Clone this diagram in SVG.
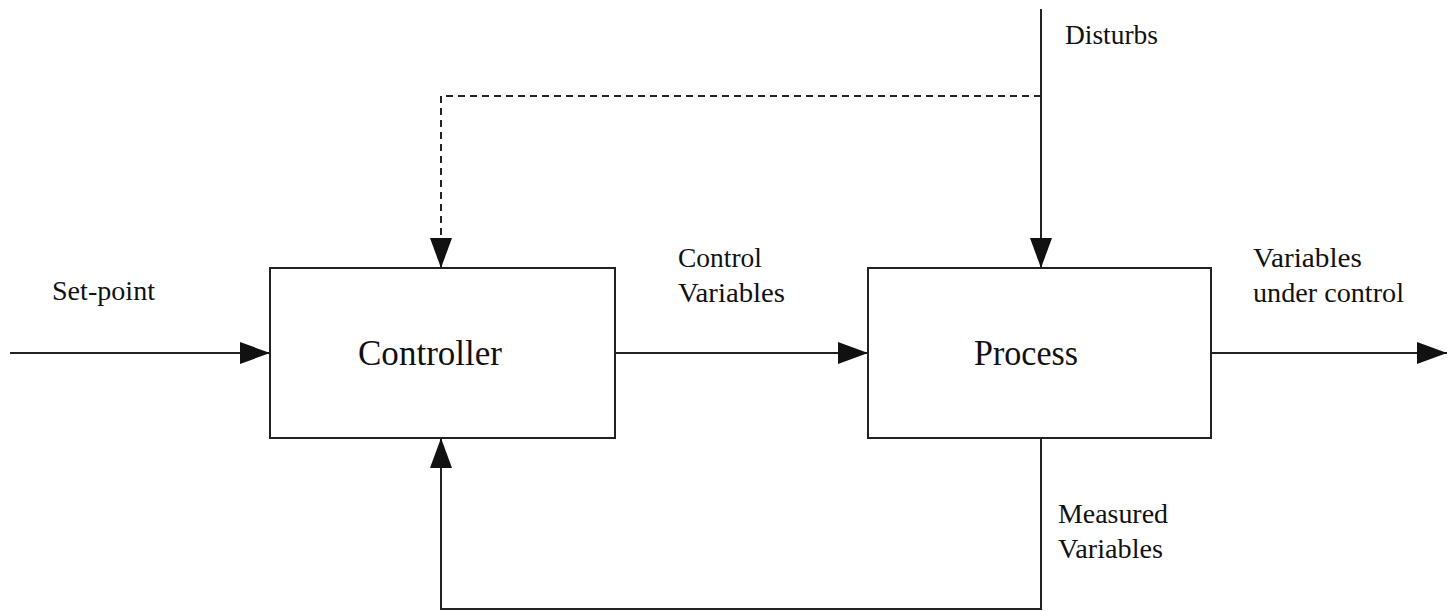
<svg xmlns="http://www.w3.org/2000/svg" width="1447" height="611" viewBox="0 0 1447 611">
<style>
.box{fill:#fff;stroke:#222;stroke-width:2}
.ln{fill:none;stroke:#222;stroke-width:2}
.dash{fill:none;stroke:#222;stroke-width:2;stroke-dasharray:7 5}
.big{font-family:'Liberation Serif','Times New Roman',Times,'DejaVu Serif',serif;font-size:35px;fill:#111}
.lbl{font-family:'Liberation Serif','Times New Roman',Times,'DejaVu Serif',serif;font-size:27px;fill:#111}
</style>
<defs>
<marker id="ah" viewBox="0 0 30 22" refX="30" refY="11" markerWidth="30" markerHeight="22" markerUnits="userSpaceOnUse" orient="auto">
<path d="M0,0 L30,11 L0,22 Z" fill="#111"/>
</marker>
</defs>
<g id="connectors">
<path class="ln" d="M10,353 H270" marker-end="url(#ah)"/>
<path class="ln" d="M615,353 H868" marker-end="url(#ah)"/>
<path class="ln" d="M1211,353 H1447" marker-end="url(#ah)"/>
<path class="ln" d="M1041,9 V268" marker-end="url(#ah)"/>
<path class="dash" d="M1041,96 H441 V268" marker-end="url(#ah)"/>
<path class="ln" d="M1041,438 V609 H441 V438" marker-end="url(#ah)"/>
</g>
<g id="controller">
<rect class="box" x="270" y="268" width="345" height="170"/>
<text class="big" x="430" y="365" text-anchor="middle" textLength="144" lengthAdjust="spacingAndGlyphs">Controller</text>
</g>
<g id="process">
<rect class="box" x="868" y="268" width="343" height="170"/>
<text class="big" x="1026" y="365" text-anchor="middle" textLength="104" lengthAdjust="spacingAndGlyphs">Process</text>
</g>
<g id="labels">
<text class="lbl" x="52" y="300" textLength="103" lengthAdjust="spacingAndGlyphs">Set-point</text>
<text class="lbl" x="678" y="267" textLength="84" lengthAdjust="spacingAndGlyphs">Control</text>
<text class="lbl" x="678" y="302" textLength="107" lengthAdjust="spacingAndGlyphs">Variables</text>
<text class="lbl" x="1065" y="44" textLength="93" lengthAdjust="spacingAndGlyphs">Disturbs</text>
<text class="lbl" x="1253" y="267" textLength="109" lengthAdjust="spacingAndGlyphs">Variables</text>
<text class="lbl" x="1253" y="302" textLength="151" lengthAdjust="spacingAndGlyphs">under control</text>
<text class="lbl" x="1058" y="523" textLength="110" lengthAdjust="spacingAndGlyphs">Measured</text>
<text class="lbl" x="1058" y="558" textLength="105" lengthAdjust="spacingAndGlyphs">Variables</text>
</g>
</svg>
